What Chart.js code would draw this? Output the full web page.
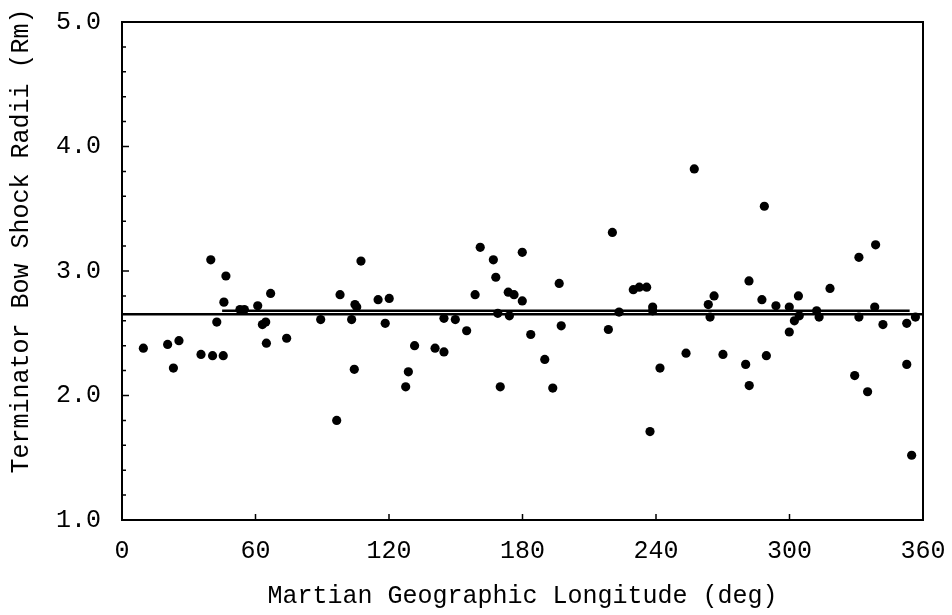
<!DOCTYPE html>
<html>
<head>
<meta charset="utf-8">
<script src="https://cdn.jsdelivr.net/npm/chart.js@4/dist/chart.umd.min.js"></script>
<style>
  body { margin: 0; background: #fff; }
  #wrap { width: 952px; height: 615px; }
</style>
</head>
<body>
<div id="wrap"><canvas id="shock"></canvas></div>
<script>
// longitude (deg) and terminator bow shock radius (Rm) for each crossing
var longitudes = [
    9.6, 20.5, 23.1, 25.6, 35.5, 39.9, 40.7, 42.6, 45.5, 45.8, 46.7, 53.0, 55.0,
    61.0, 63.1, 64.6, 64.9, 66.8, 74.0, 89.3, 96.5, 98.0, 103.2, 104.4, 104.7,
    105.5, 107.4, 115.1, 118.3, 120.1, 127.5, 128.7, 131.5, 140.7, 144.7, 144.7,
    149.8, 154.9, 158.7, 161.0, 166.9, 168.0, 168.9, 170.0, 173.6, 174.1, 176.2,
    179.9, 179.9, 183.7, 190.0, 193.6, 196.5, 197.4, 218.6, 220.4, 223.4, 229.8,
    232.5, 235.8, 237.3, 238.5, 238.5, 241.8, 253.5, 257.2, 263.5, 264.3, 266.1,
    270.1, 280.3, 281.8, 281.9, 287.6, 288.7, 289.6, 293.9, 299.9, 299.9, 302.2,
    304.0, 304.4, 312.2, 313.3, 318.2, 329.3, 331.2, 331.2, 335.1, 338.3, 338.7,
    342.0, 352.7, 352.7, 354.9, 356.6
];
var radii = [
    2.38, 2.41, 2.22, 2.44, 2.33, 3.09, 2.32, 2.59, 2.32, 2.75, 2.96, 2.69, 2.69,
    2.72, 2.57, 2.59, 2.42, 2.82, 2.46, 2.61, 1.80, 2.81, 2.61, 2.21, 2.73,
    2.71, 3.08, 2.77, 2.58, 2.78, 2.07, 2.19, 2.40, 2.38, 2.35, 2.62,
    2.61, 2.52, 2.81, 3.19, 3.09, 2.95, 2.66, 2.07, 2.83, 2.64, 2.81,
    2.76, 3.15, 2.49, 2.29, 2.06, 2.90, 2.56, 2.53, 3.31, 2.67, 2.85,
    2.87, 2.87, 1.71, 2.71, 2.68, 2.22, 2.34, 3.82, 2.73, 2.63, 2.80,
    2.33, 2.25, 2.92, 2.08, 2.77, 3.52, 2.32, 2.72, 2.71, 2.51, 2.60,
    2.80, 2.64, 2.68, 2.63, 2.86, 2.16, 2.63, 3.11, 2.03, 2.71, 3.21,
    2.57, 2.58, 2.25, 1.52, 2.63
];

// the two mean lines
var meanAllX = [0, 360];
var meanAllY = [2.652, 2.652];
var meanPartX = [45, 354];
var meanPartY = [2.68, 2.68];

var xTicks = [0, 60, 120, 180, 240, 300, 360];
var yTicks = [1.0, 2.0, 3.0, 4.0, 5.0];

var fontName = '"Liberation Mono", "Courier New", monospace';

function toPoints(xs, ys){
    var pts = [];
    for (var i = 0; i < xs.length; i++){
        pts.push({ x: xs[i], y: ys[i] });
    }
    return pts;
}

// box around the plot with small inward tick marks
var frameTicks = {
    id: 'frameTicks',
    afterDatasetsDraw: function(chart){
        var ctx = chart.ctx;
        var a = chart.chartArea;
        var xs = chart.scales.x;
        var ys = chart.scales.y;

        ctx.save();
        ctx.strokeStyle = '#000';
        ctx.lineWidth = 2;
        ctx.strokeRect(a.left, a.top, a.right - a.left, a.bottom - a.top);

        ctx.lineWidth = 1.5;
        ctx.beginPath();
        for (var v = 10; v <= 50; v += 2){
            var y = ys.getPixelForValue(v / 10);
            var len = (v % 10 === 0) ? 7 : 4;
            ctx.moveTo(a.left, y);
            ctx.lineTo(a.left + len, y);
        }
        xTicks.forEach(function(t){
            var x = xs.getPixelForValue(t);
            ctx.moveTo(x, a.bottom);
            ctx.lineTo(x, a.bottom - 6);
        });
        ctx.stroke();
        ctx.restore();
    }
};

new Chart(document.getElementById('shock').getContext('2d'), {
    type: 'scatter',
    data: {
        datasets: [{
            data: toPoints(longitudes, radii),
            backgroundColor: '#000',
            borderColor: '#000',
            pointRadius: 4.6,
            pointBorderWidth: 0
        }, {
            data: toPoints(meanAllX, meanAllY),
            showLine: true,
            borderColor: '#000',
            borderWidth: 2.5,
            pointRadius: 0
        }, {
            data: toPoints(meanPartX, meanPartY),
            showLine: true,
            borderColor: '#000',
            borderWidth: 2.5,
            pointRadius: 0
        }]
    },
    options: {
        responsive: true,
        maintainAspectRatio: false,
        animation: false,
        layout: {
            padding: { left: 4, right: 29, top: 22, bottom: 0 }
        },
        plugins: {
            legend: { display: false },
            tooltip: { enabled: false }
        },
        scales: {
            x: {
                type: 'linear',
                min: 0,
                max: 360,
                afterBuildTicks: function(scale){
                    scale.ticks = xTicks.map(function(v){ return { value: v }; });
                },
                afterFit: function(scale){
                    scale.height = 95;
                    // let the layout padding alone decide the plot edges
                    scale.paddingLeft = 0;
                    scale.paddingRight = 0;
                },
                grid: { display: false, drawTicks: false },
                border: { display: false },
                ticks: {
                    padding: 16,
                    color: '#000',
                    maxRotation: 0,
                    font: { family: fontName, size: 25 }
                },
                title: {
                    display: true,
                    text: 'Martian Geographic Longitude (deg)',
                    color: '#000',
                    padding: { top: 0, bottom: 4 },
                    font: { family: fontName, size: 25 }
                }
            },
            y: {
                type: 'linear',
                min: 1,
                max: 5,
                afterBuildTicks: function(scale){
                    scale.ticks = yTicks.map(function(v){ return { value: v }; });
                },
                afterFit: function(scale){
                    scale.width = 118;
                    scale.paddingTop = 0;
                    scale.paddingBottom = 0;
                },
                grid: { display: false, drawTicks: false },
                border: { display: false },
                ticks: {
                    padding: 21,
                    color: '#000',
                    font: { family: fontName, size: 25 },
                    callback: function(v){ return v.toFixed(1); }
                },
                title: {
                    display: true,
                    // leading spaces nudge the label up like the original
                    text: '    Terminator Bow Shock Radii (Rm)',
                    color: '#000',
                    padding: 2,
                    font: { family: fontName, size: 25 }
                }
            }
        }
    },
    plugins: [frameTicks]
});
</script>
</body>
</html>
